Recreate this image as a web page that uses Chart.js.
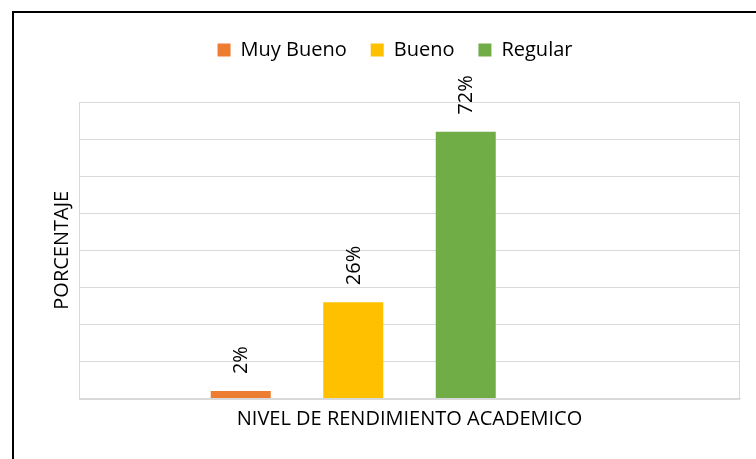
<!DOCTYPE html>
<html>
<head>
<meta charset="utf-8">
<script src="https://cdn.jsdelivr.net/npm/chart.js@4/dist/chart.umd.min.js"></script>
<style>
  html, body { margin: 0; padding: 0; background: #fff; overflow: hidden; }
  #wrap { position: relative; width: 756px; height: 459px; }
  #frame { position: absolute; left: 12px; top: 11px; width: 800px; height: 500px;
           border-left: 2px solid #000; border-top: 2px solid #000; pointer-events: none; }
  canvas { position: absolute; left: 0; top: 0; }
</style>
</head>
<body>
<div id="wrap">
  <canvas id="c" width="756" height="459"></canvas>
  <div id="frame"></div>
</div>
<script>
// ---- data ----
const categories = [''];
const seriesNames = ['Muy Bueno', 'Bueno', 'Regular', ''];
const muyBueno = [2];
const bueno = [26];
const regular = [72];
const emptySeries = [null];
const seriesColors = ['#ED7D31', '#FFC000', '#70AD47', '#A5A5A5'];
const yTitle = 'PORCENTAJE';
const xTitle = 'NIVEL DE RENDIMIENTO ACADEMICO';
const yMin = 0, yMax = 80, yStep = 10;

const FONT = "'Open Sans', 'DejaVu Sans', sans-serif";
const TEXT = '#000000';
const GRID = '#d9d9d9';

const legendSpacer = {
  id: 'legendSpacer',
  afterInit(chart) {
    const lg = chart.legend;
    if (lg && !lg._patched) {
      const orig = lg.fit;
      lg.fit = function () { orig.call(this); this.height += 32; };
      lg._patched = true;
    }
  }
};

const plotBorder = {
  id: 'plotBorder',
  afterDraw(chart) {
    const a = chart.chartArea, ctx = chart.ctx;
    ctx.save();
    ctx.strokeStyle = GRID;
    ctx.lineWidth = 1;
    ctx.strokeRect(Math.round(a.left) + 0.5, Math.round(a.top) + 0.5,
                   Math.round(a.right - a.left) - 1, Math.round(a.bottom - a.top));
    ctx.restore();
  }
};

const valueLabels = {
  id: 'valueLabels',
  afterDatasetsDraw(chart) {
    const ctx = chart.ctx;
    ctx.save();
    ctx.font = '20px ' + FONT;
    ctx.fillStyle = TEXT;
    ctx.textAlign = 'left';
    ctx.textBaseline = 'middle';
    chart.data.datasets.forEach((ds, i) => {
      const meta = chart.getDatasetMeta(i);
      meta.data.forEach((bar, j) => {
        const v = ds.data[j];
        if (v === null || v === undefined) return;
        ctx.save();
        ctx.translate(bar.x + 1, bar.y - 17);
        ctx.rotate(-Math.PI / 2);
        ctx.fillText(v + '%', 0, 0);
        ctx.restore();
      });
    });
    ctx.restore();
  }
};

const seriesData = [muyBueno, bueno, regular, emptySeries];

new Chart(document.getElementById('c'), {
  type: 'bar',
  data: {
    labels: categories,
    datasets: seriesNames.map((name, i) => ({
      label: name,
      data: seriesData[i],
      backgroundColor: seriesColors[i],
      borderWidth: 0,
      categoryPercentage: 0.6808,
      barPercentage: 0.5333
    }))
  },
  options: {
    responsive: false,
    animation: false,
    devicePixelRatio: 1,
    layout: { padding: { left: 50, right: 16, top: 16, bottom: 0 } },
    plugins: {
      tooltip: { enabled: false },
      legend: {
        position: 'top',
        align: 'center',
        labels: {
          filter: (item) => item.text !== '',
          boxWidth: 13,
          boxHeight: 13,
          padding: 24,
          color: TEXT,
          font: { family: FONT, size: 20 }
        }
      }
    },
    scales: {
      x: {
        type: 'category',
        offset: true,
        grid: { display: false, drawTicks: false },
        border: { display: true, color: GRID },
        ticks: { display: false },
        title: {
          display: true, text: xTitle, color: TEXT,
          font: { family: FONT, size: 20 },
          padding: { top: 8.5, bottom: 28 }
        }
      },
      y: {
        min: yMin, max: yMax,
        grid: { color: GRID, lineWidth: 1, drawTicks: false },
        border: { display: true, color: GRID },
        ticks: { display: false, stepSize: yStep },
        title: {
          display: true, text: yTitle, color: TEXT,
          font: { family: FONT, size: 20 },
          padding: { top: 0, bottom: 5 }
        }
      }
    }
  },
  plugins: [legendSpacer, plotBorder, valueLabels]
});
</script>
</body>
</html>
